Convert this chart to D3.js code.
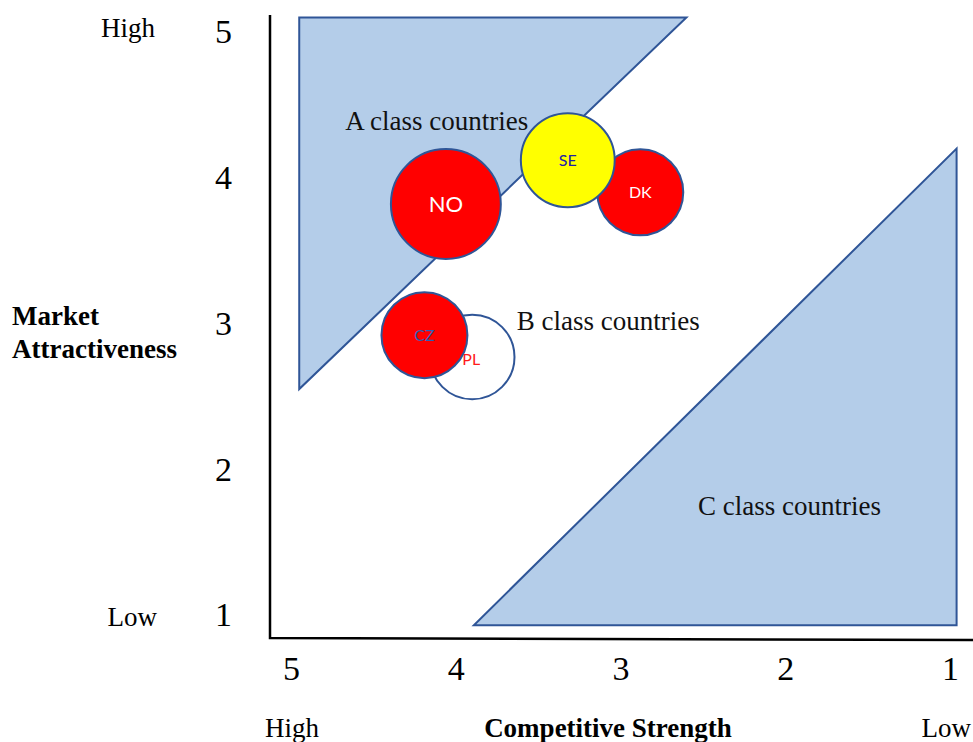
<!DOCTYPE html>
<html>
<head>
<meta charset="utf-8">
<script src="https://cdn.jsdelivr.net/npm/d3@7"></script>
<style>
  body { margin: 0; background: #fff; }
  svg text { font-family: "Liberation Serif", "Times New Roman", serif; }
</style>
</head>
<body>
<script>
var width = 973,
    height = 742;

// axis ticks
var xTicks = [5, 4, 3, 2, 1];
var yTicks = [5, 4, 3, 2, 1];

// class regions (competitive strength, market attractiveness)
var regionA = [[4.95, 5.1], [2.6, 5.1], [4.95, 2.55]];
var regionC = [[0.96, 4.2], [0.96, 0.93], [3.89, 0.93]];
var regionLabels = ['A class countries', 'B class countries', 'C class countries'];
var regionLabelPos = [[4.67, 4.39], [3.63, 3.02], [2.53, 1.75]];

// countries
var countries = ['PL', 'CZ', 'NO', 'DK', 'SE'];
var strength = [3.9, 4.19, 4.06, 2.88, 3.32];
var attract = [2.77, 2.92, 3.82, 3.9, 4.12];
var size = [0.29, 0.295, 0.377, 0.295, 0.322];
var fills = ['#ffffff', '#ff0000', '#ff0000', '#ff0000', '#ffff00'];
var labelColors = ['#ff1a1a', '#2f5fb5', '#ffffff', '#ffffff', '#2020a8'];

var svg = d3.select('body').append('svg').attr('width', width).attr('height', height);

var x = d3.scaleLinear().domain([5, 1]).range([291, 950]);
var y = d3.scaleLinear().domain([1, 5]).range([615, 32]);

var line = d3.line()
    .x(function (d) { return x(d[0]); })
    .y(function (d) { return y(d[1]); })
    .curve(d3.curveLinearClosed);

// triangles
svg.selectAll('path.region')
    .data([regionA, regionC])
    .enter()
    .append('path')
    .attr('class', 'region')
    .attr('d', line)
    .style('fill', '#b4cde9')
    .style('stroke', '#2f5597')
    .style('stroke-width', 2);

// region labels
svg.selectAll('text.region')
    .data(regionLabels)
    .enter()
    .append('text')
    .attr('class', 'region')
    .attr('x', function (d, i) { return x(regionLabelPos[i][0]); })
    .attr('y', function (d, i) { return y(regionLabelPos[i][1]); })
    .attr('dy', '0.35em')
    .style('font-size', '27px')
    .style('fill', '#111')
    .text(function (d) { return d; });

// bubbles
var bubbles = svg.selectAll('g.bubble')
    .data(countries)
    .enter()
    .append('g')
    .attr('class', 'bubble')
    .attr('transform', function (d, i) {
        return 'translate(' + x(strength[i]) + ',' + y(attract[i]) + ')';
    });

bubbles.append('circle')
    .attr('r', function (d, i) { return y(0) - y(size[i]); })
    .style('fill', function (d, i) { return fills[i]; })
    .style('stroke', '#2f5597')
    .style('stroke-width', 2);

bubbles.append('text')
    .attr('x', function (d) { return d == 'PL' ? -1 : 0; })
    .attr('y', function (d) { return d == 'PL' ? 2 : 0; })
    .attr('dy', '0.35em')
    .attr('text-anchor', 'middle')
    .style('font-family', 'Lato, "Open Sans", sans-serif')
    .style('font-size', function (d) { return d == 'NO' ? '22px' : '16px'; })
    .style('fill', function (d, i) { return labelColors[i]; })
    .text(function (d) { return d; });

// axes lines
svg.append('path')
    .attr('d', 'M270,15V638L973,640')
    .style('fill', 'none')
    .style('stroke', '#000')
    .style('stroke-width', 2.5);

var yAxis = d3.axisLeft(y).tickValues(yTicks).tickSize(0).tickPadding(38).tickFormat(d3.format('d'));
svg.append('g')
    .attr('transform', 'translate(270,0)')
    .call(yAxis)
    .call(function (g) { g.select('.domain').remove(); })
    .selectAll('text')
    .style('font-family', '"Liberation Serif", serif')
    .style('font-size', '34px')
    .style('fill', '#000');

var xAxis = d3.axisBottom(x).tickValues(xTicks).tickSize(0).tickPadding(18).tickFormat(d3.format('d'));
svg.append('g')
    .attr('transform', 'translate(0,638)')
    .call(xAxis)
    .call(function (g) { g.select('.domain').remove(); })
    .selectAll('text')
    .style('font-family', '"Liberation Serif", serif')
    .style('font-size', '34px')
    .style('fill', '#000');

// axis captions
svg.append('text').attr('x', 155).attr('y', 28).attr('dy', '0.35em').attr('text-anchor', 'end')
    .style('font-size', '27px').text('High');
svg.append('text').attr('x', 157).attr('y', 617).attr('dy', '0.35em').attr('text-anchor', 'end')
    .style('font-size', '27px').text('Low');
svg.append('text').attr('x', 12).attr('y', 316).attr('dy', '0.35em')
    .style('font-size', '27px').style('font-weight', 'bold').text('Market');
svg.append('text').attr('x', 12).attr('y', 349).attr('dy', '0.35em')
    .style('font-size', '27px').style('font-weight', 'bold').text('Attractiveness');

svg.append('text').attr('x', 292).attr('y', 728).attr('dy', '0.35em').attr('text-anchor', 'middle')
    .style('font-size', '27px').text('High');
svg.append('text').attr('x', 608).attr('y', 728).attr('dy', '0.35em').attr('text-anchor', 'middle')
    .style('font-size', '27px').style('font-weight', 'bold').text('Competitive Strength');
svg.append('text').attr('x', 971).attr('y', 728).attr('dy', '0.35em').attr('text-anchor', 'end')
    .style('font-size', '27px').text('Low');
</script>
</body>
</html>
